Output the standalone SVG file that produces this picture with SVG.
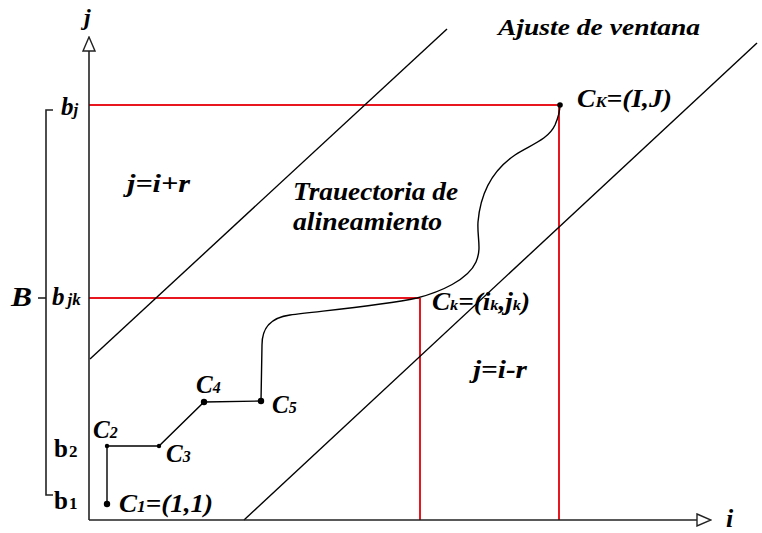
<svg xmlns="http://www.w3.org/2000/svg" width="762" height="533" viewBox="0 0 762 533">
<defs>
<style>
.t{font-family:"Liberation Serif","Times New Roman",serif;font-weight:bold;font-style:italic;fill:#000}
.u{font-family:"Liberation Serif","Times New Roman",serif;font-weight:bold;fill:#000}
.ax{stroke:#222;stroke-width:1.6;fill:none}
.ln{stroke:#000;stroke-width:1.4;fill:none}
.red{stroke:#e8161e;stroke-width:2;fill:none}
</style>
<marker id="arr" markerWidth="16" markerHeight="14" refX="1" refY="7" orient="auto" markerUnits="userSpaceOnUse">
<path d="M1,1 L15,7 L1,13 Z" fill="#fff" stroke="#222" stroke-width="1.4"/>
</marker>
</defs>
<rect width="762" height="533" fill="#fff"/>
<g id="connectors">
<line id="ref-bj" class="red" x1="89" y1="105" x2="560" y2="105"/>
<line id="ref-I" class="red" x1="559" y1="105" x2="559" y2="520"/>
<line id="ref-bjk" class="red" x1="89" y1="298" x2="420" y2="298"/>
<line id="ref-ik" class="red" x1="420" y1="298" x2="420" y2="520"/>
<line id="upper-bound" class="ln" x1="90" y1="359" x2="447" y2="29"/>
<line id="lower-bound" class="ln" x1="244" y1="520" x2="757" y2="43"/>
<polyline id="path-steps" class="ln" points="107,504 107,446 159,446 204,402 261,401"/>
<path id="path-curve" class="ln" d="M261,401 L262,345 C262,330 268,318 290,315 C320,311 380,306 417,298 C440,292 468,280 476,262 C482,248 477,238 478,222 C480,198 490,172 515,155 C530,145 548,140 555,125 C558,118 560,110 560,105"/>
<line id="y-axis" class="ax" x1="89" y1="520" x2="89" y2="51" marker-end="url(#arr)"/>
<line id="x-axis" class="ax" x1="89" y1="520" x2="697" y2="520" marker-end="url(#arr)"/>
<polyline id="bracket" class="ax" points="53,110 46,110 46,495 53,495"/>
<line id="bracket-tick" class="ax" x1="38" y1="298" x2="46" y2="298"/>
</g>
<g id="dots" fill="#000">
<circle id="C1" cx="107" cy="504" r="3.2"/>
<circle id="C2" cx="107" cy="446" r="2.2"/>
<circle id="C3" cx="159" cy="446" r="2.2"/>
<circle id="C4" cx="204" cy="402" r="3.2"/>
<circle id="C5" cx="261" cy="401" r="3.2"/>
<circle id="CK" cx="560" cy="105" r="2.8"/>
</g>
<g id="labels">
<text class="t" x="84" y="25" font-size="24">j</text>
<text class="t" x="726" y="527" font-size="26">i</text>
<text class="t" x="498" y="35" font-size="24" textLength="202" lengthAdjust="spacingAndGlyphs">Ajuste de ventana</text>
<text class="t" x="577" y="107" font-size="25" textLength="95" lengthAdjust="spacingAndGlyphs">C<tspan font-size="15">K</tspan>=(I,J)</text>
<text class="t" x="127" y="192" font-size="25" textLength="63" lengthAdjust="spacingAndGlyphs">j=i+r</text>
<text class="t" x="293" y="200" font-size="25" textLength="165" lengthAdjust="spacingAndGlyphs">Trauectoria de</text>
<text class="t" x="293" y="230" font-size="25" textLength="149" lengthAdjust="spacingAndGlyphs">alineamiento</text>
<text class="t" x="432" y="310" font-size="25" textLength="98" lengthAdjust="spacingAndGlyphs">C<tspan font-size="15">k</tspan>=(i<tspan font-size="15">k</tspan>,j<tspan font-size="15">k</tspan>)</text>
<text class="t" x="473" y="378" font-size="25" textLength="54" lengthAdjust="spacingAndGlyphs">j=i-r</text>
<text class="t" x="61" y="115" font-size="25">b<tspan font-size="17">j</tspan></text>
<text class="t" x="52" y="305" font-size="25">b<tspan font-size="17" dx="3">jk</tspan></text>
<text class="t" x="11" y="306" font-size="28" textLength="21" lengthAdjust="spacingAndGlyphs">B</text>
<text class="u" x="54" y="457" font-size="25">b<tspan font-size="17" dx="1">2</tspan></text>
<text class="u" x="54" y="509" font-size="25">b<tspan font-size="17" dx="1">1</tspan></text>
<text class="t" x="93" y="438" font-size="25">C<tspan font-size="16">2</tspan></text>
<text class="t" x="166" y="462" font-size="25">C<tspan font-size="16">3</tspan></text>
<text class="t" x="196" y="393" font-size="25">C<tspan font-size="16">4</tspan></text>
<text class="t" x="272" y="413" font-size="25">C<tspan font-size="16">5</tspan></text>
<text class="t" x="119" y="512" font-size="25" textLength="94" lengthAdjust="spacingAndGlyphs">C<tspan font-size="16">1</tspan>=(1,1)</text>
</g>
</svg>
